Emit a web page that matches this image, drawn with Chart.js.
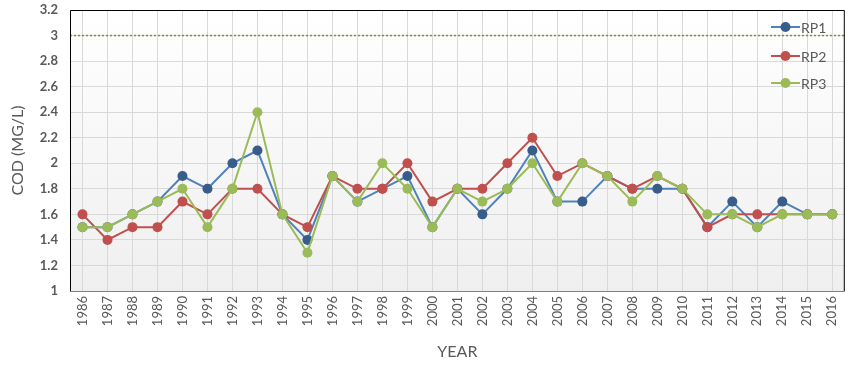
<!DOCTYPE html>
<html>
<head>
<meta charset="utf-8">
<script src="https://cdn.jsdelivr.net/npm/chart.js@4/dist/chart.umd.min.js"></script>
<style>
  html, body { margin: 0; padding: 0; background: #fff; }
  #wrap { width: 853px; height: 367px; }
</style>
</head>
<body>
<div id="wrap"><canvas id="myChart" width="853" height="367"></canvas></div>
<script>
var years = ["1986","1987","1988","1989","1990","1991","1992","1993","1994","1995",
             "1996","1997","1998","1999","2000","2001","2002","2003","2004","2005",
             "2006","2007","2008","2009","2010","2011","2012","2013","2014","2015","2016"];

var rp1 = [1.5,1.5,1.6,1.7,1.9,1.8,2.0,2.1,1.6,1.4,
           1.9,1.7,1.8,1.9,1.5,1.8,1.6,1.8,2.1,1.7,
           1.7,1.9,1.8,1.8,1.8,1.5,1.7,1.5,1.7,1.6,1.6];
var rp2 = [1.6,1.4,1.5,1.5,1.7,1.6,1.8,1.8,1.6,1.5,
           1.9,1.8,1.8,2.0,1.7,1.8,1.8,2.0,2.2,1.9,
           2.0,1.9,1.8,1.9,1.8,1.5,1.6,1.6,1.6,1.6,1.6];
var rp3 = [1.5,1.5,1.6,1.7,1.8,1.5,1.8,2.4,1.6,1.3,
           1.9,1.7,2.0,1.8,1.5,1.8,1.7,1.8,2.0,1.7,
           2.0,1.9,1.7,1.9,1.8,1.6,1.6,1.5,1.6,1.6,1.6];

var limitValue = 3;
var yMin = 1, yMax = 3.2, yStep = 0.2;

var textColor = "#595959";
var fontFamily = "Lato, 'Open Sans', sans-serif";

// plot background gradient + frame + limit line + legend
var plotDecor = {
    id: "plotDecor",
    beforeDraw: function (chart) {
        var ctx = chart.ctx, a = chart.chartArea;
        var g = ctx.createLinearGradient(0, a.top, 0, a.bottom);
        g.addColorStop(0, "#ffffff");
        g.addColorStop(1, "#efefef");
        ctx.save();
        ctx.fillStyle = g;
        ctx.fillRect(a.left, a.top, a.right - a.left, a.bottom - a.top);
        ctx.restore();
    },
    afterDatasetsDraw: function (chart) {
        var ctx = chart.ctx, a = chart.chartArea;
        var y = chart.scales.y.getPixelForValue(limitValue);
        ctx.save();
        ctx.strokeStyle = "#76923C";
        ctx.lineWidth = 1.5;
        ctx.setLineDash([2, 2]);
        ctx.beginPath();
        ctx.moveTo(a.left, y);
        ctx.lineTo(a.right, y);
        ctx.stroke();
        ctx.setLineDash([]);
        ctx.strokeStyle = "#000";
        ctx.lineWidth = 1;
        ctx.beginPath();
        ctx.moveTo(a.left + 0.5, a.bottom);
        ctx.lineTo(a.left + 0.5, a.top + 0.5);
        ctx.lineTo(a.right - 0.5, a.top + 0.5);
        ctx.lineTo(a.right - 0.5, a.bottom);
        ctx.stroke();
        ctx.strokeStyle = "#808080";
        ctx.beginPath();
        ctx.moveTo(a.left, a.bottom + 0.5);
        ctx.lineTo(a.right, a.bottom + 0.5);
        ctx.stroke();

        var rows = [27, 56, 83];
        chart.data.datasets.forEach(function (ds, i) {
            var yy = rows[i];
            ctx.strokeStyle = ds.borderColor;
            ctx.lineWidth = 2;
            ctx.beginPath();
            ctx.moveTo(771, yy);
            ctx.lineTo(800, yy);
            ctx.stroke();
            ctx.fillStyle = ds.pointBackgroundColor;
            ctx.beginPath();
            ctx.arc(785.5, yy, 5, 0, Math.PI * 2);
            ctx.fill();
            ctx.fillStyle = textColor;
            ctx.font = "14px " + fontFamily;
            ctx.textAlign = "left";
            ctx.textBaseline = "middle";
            ctx.fillText(ds.label, 801, yy + 1);
        });
        ctx.restore();
    }
};

var data = {
    labels: years,
    datasets: [
        {
            label: "RP1",
            data: rp1,
            order: 3,
            borderColor: "#4F81BD",
            backgroundColor: "#4F81BD",
            pointBackgroundColor: "#385D8A",
            pointBorderColor: "#385D8A",
            borderWidth: 2,
            pointRadius: 5,
            pointBorderWidth: 0,
            tension: 0
        },
        {
            label: "RP2",
            data: rp2,
            order: 2,
            borderColor: "#C0504D",
            backgroundColor: "#C0504D",
            pointBackgroundColor: "#C0504D",
            pointBorderColor: "#C0504D",
            borderWidth: 2,
            pointRadius: 5,
            pointBorderWidth: 0,
            tension: 0
        },
        {
            label: "RP3",
            data: rp3,
            order: 1,
            borderColor: "#9BBB59",
            backgroundColor: "#9BBB59",
            pointBackgroundColor: "#9BBB59",
            pointBorderColor: "#9BBB59",
            borderWidth: 2,
            pointRadius: 5,
            pointBorderWidth: 0,
            tension: 0
        }
    ]
};

var ctx = document.getElementById("myChart").getContext("2d");
var myLineChart = new Chart(ctx, {
    type: "line",
    data: data,
    plugins: [plotDecor],
    options: {
        responsive: false,
        animation: false,
        layout: { padding: { left: 8, right: 7, top: 10, bottom: 0 } },
        plugins: {
            legend: { display: false },
            tooltip: { enabled: false }
        },
        scales: {
            x: {
                offset: true,
                grid: { color: "#d9d9d9", drawTicks: false, offset: false },
                border: { display: false },
                ticks: {
                    color: textColor,
                    font: { family: fontFamily, size: 13 },
                    minRotation: 90,
                    maxRotation: 90,
                    padding: 5,
                    autoSkip: false
                },
                title: {
                    display: true,
                    text: "YEAR",
                    color: textColor,
                    font: { family: fontFamily, size: 16 },
                    padding: { top: 4, bottom: 6 }
                },
                afterFit: function (scale) { scale.height = 76; }
            },
            y: {
                min: yMin,
                max: yMax,
                grid: { color: "#d9d9d9", drawTicks: false },
                border: { display: false },
                ticks: {
                    stepSize: yStep,
                    color: textColor,
                    padding: 12,
                    font: { family: fontFamily, size: 13, weight: "bold" },
                    callback: function (v) { return String(Number(v.toFixed(1))); }
                },
                title: {
                    display: true,
                    text: "COD (MG/L)",
                    color: textColor,
                    font: { family: fontFamily, size: 16 },
                    padding: { top: 0, bottom: 4 }
                },
                afterFit: function (scale) {
                    scale.width = 62;
                    scale.paddingTop = 0;
                    scale.paddingBottom = 0;
                }
            }
        }
    }
});
</script>
</body>
</html>
